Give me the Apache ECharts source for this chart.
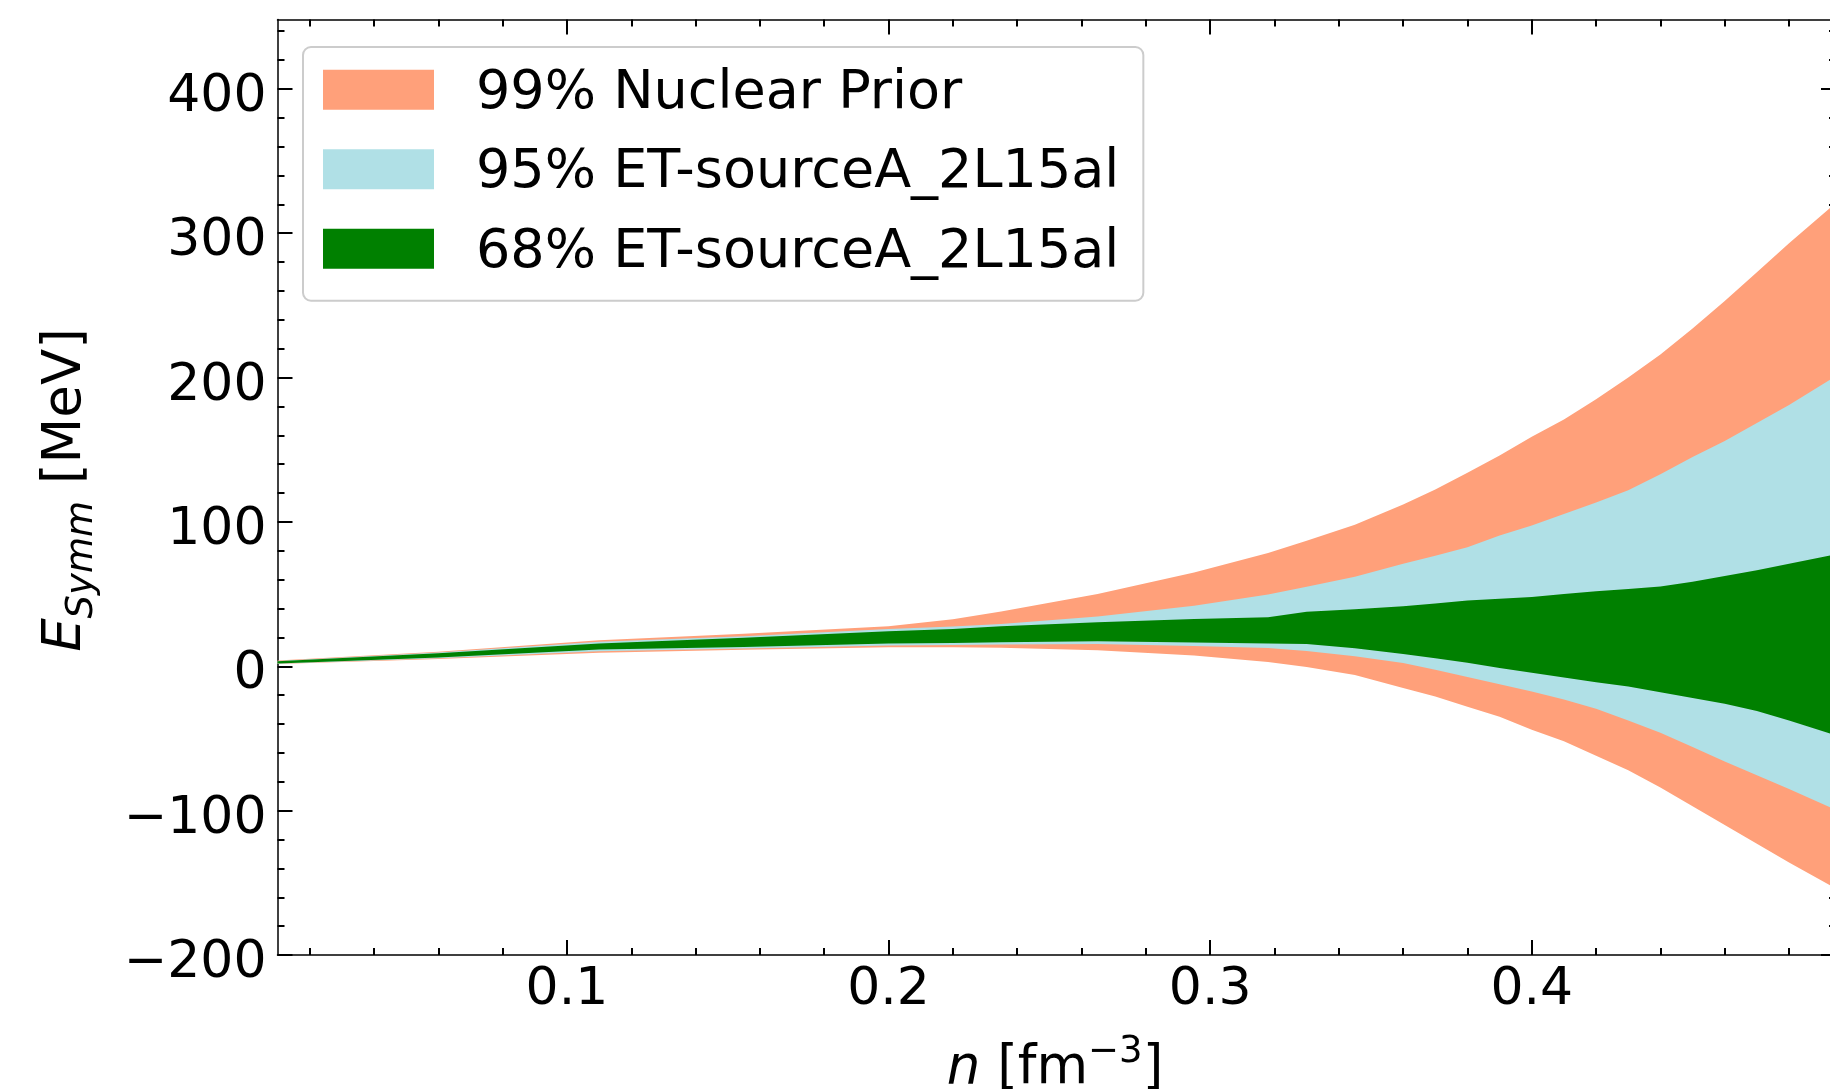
<!DOCTYPE html>
<html lang="en">
<head>
    <meta charset="UTF-8">
    <title>E_Symm bands</title>
    <script src="https://cdn.jsdelivr.net/npm/echarts@6/dist/echarts.min.js"></script>
    <style>
        body { margin: 0; background: #fff; }
    </style>
</head>
<body>
<div id="main" style="width: 1830px; height: 1089px;"></div>
<script type="text/javascript">
    // density grid n [fm^-3]
    var nVals = [0.01, 0.06, 0.11, 0.155, 0.20, 0.22, 0.235, 0.265, 0.295, 0.318, 0.33, 0.345,
                 0.36, 0.37, 0.38, 0.39, 0.40, 0.41, 0.42, 0.43, 0.44, 0.45, 0.46, 0.47, 0.48, 0.4946];

    // 99% nuclear prior band
    var priorLo = [1.5, 5.0, 9.3, 11.5, 13.2, 13.1, 12.9, 11.1, 7.5, 3.0, -0.5, -6,
                   -15, -21, -28, -35, -44, -52, -62, -72, -84, -97, -110, -123, -136, -154];
    var priorHi = [4.0, 10.0, 18.0, 22.5, 27.8, 32.5, 38, 50, 65, 78.5, 87, 98,
                   112, 122.5, 134, 146, 159, 171, 185, 200, 216, 234, 253, 273, 293, 321];

    // 95% ET-sourceA_2L15al band
    var et95Lo = [1.8, 5.5, 10.4, 12.3, 14.3, 14.7, 15.0, 15.5, 14.0, 12.7, 10.5, 7,
                  2.2, -2.5, -7.5, -12.5, -17.5, -23, -29.5, -37.5, -46, -56, -66, -75.5, -85, -99.5];
    var et95Hi = [3.7, 9.5, 16.9, 20.8, 25.8, 27.5, 29.3, 34.5, 42, 49.7, 55, 62,
                  71, 76.5, 82.5, 90.5, 97.5, 105.5, 113.5, 122, 133, 145, 156, 168.5, 181, 201];

    // 68% ET-sourceA_2L15al band
    var et68Lo = [2.0, 6.0, 11.6, 13.3, 15.7, 16.2, 16.6, 17.3, 16.5, 15.8, 15.4, 12.5,
                  8.5, 5.5, 2.5, -1.2, -4.5, -7.8, -11, -14, -18, -22, -26, -31, -37.5, -48];
    var et68Hi = [3.5, 9.0, 15.7, 19.8, 24.3, 25.8, 27.7, 30.5, 32.7, 34, 37.8, 39.5,
                  41.5, 43.5, 45.5, 46.7, 48, 50, 52, 53.5, 55.3, 58.5, 62.5, 66.5, 71, 77.5];

    var bandNames = ['99% Nuclear Prior', '95% ET-sourceA_2L15al', '68% ET-sourceA_2L15al'];
    var bandColors = ['#FFA07A', '#B0E0E6', '#008000'];

    // ticks
    var xMajor = [0.1, 0.2, 0.3, 0.4];
    var xTickLabels = ['0.1', '0.2', '0.3', '0.4'];
    var xMinor = [0.02, 0.04, 0.06, 0.08, 0.12, 0.14, 0.16, 0.18, 0.22, 0.24, 0.26, 0.28,
                  0.32, 0.34, 0.36, 0.38, 0.42, 0.44, 0.46, 0.48];
    var yMajor = [-200, -100, 0, 100, 200, 300, 400];
    var yTickLabels = ['\u2212200', '\u2212100', '0', '100', '200', '300', '400'];
    var yMinor = [];
    for (var v = -180; v <= 440; v += 20) {
        if (v % 100 !== 0) yMinor.push(v);
    }

    var X_MIN = 0.01, X_MAX = 0.4946;
    var Y_MIN = -200, Y_MAX = 448;
    var FONT = 'DejaVu Sans';

    function xAxisDef(position, ticks, len, showLine, showLabel) {
        return {
            type: 'value',
            position: position,
            min: X_MIN,
            max: X_MAX,
            splitLine: {show: false},
            axisLine: {show: showLine, onZero: false, lineStyle: {color: '#000', width: 1.5}},
            axisTick: {show: true, inside: true, length: len, customValues: ticks,
                       lineStyle: {color: '#000', width: 2}},
            axisLabel: {
                show: showLabel,
                customValues: ticks,
                margin: 9,
                color: '#000',
                fontSize: 52,
                fontFamily: FONT,
                formatter: function (val) {
                    var i = xMajor.indexOf(Math.round(val * 100) / 100);
                    return i >= 0 ? xTickLabels[i] : '';
                }
            }
        };
    }

    function yAxisDef(position, ticks, len, showLine, showLabel) {
        return {
            type: 'value',
            position: position,
            min: Y_MIN,
            max: Y_MAX,
            splitLine: {show: false},
            axisLine: {show: showLine, onZero: false, lineStyle: {color: '#000', width: 1.5}},
            axisTick: {show: true, inside: true, length: len, customValues: ticks,
                       lineStyle: {color: '#000', width: 2}},
            axisLabel: {
                show: showLabel,
                customValues: ticks,
                margin: 11,
                verticalAlign: 'top',
                lineHeight: 17,
                color: '#000',
                fontSize: 52,
                fontFamily: FONT,
                formatter: function (val) {
                    var i = yMajor.indexOf(Math.round(val));
                    return i >= 0 ? yTickLabels[i] : '';
                }
            }
        };
    }

    function bandSeries(idx, lo, hi) {
        var rows = [];
        for (var i = 0; i < nVals.length; i++) {
            rows.push([nVals[i], lo[i], hi[i]]);
        }
        return {
            type: 'custom',
            name: bandNames[idx],
            xAxisIndex: 0,
            yAxisIndex: 0,
            z: 2 + idx,
            clip: true,
            silent: true,
            itemStyle: {color: bandColors[idx]},
            encode: {x: 0, y: [1, 2]},
            data: rows,
            renderItem: function (params, api) {
                // one polygon per band: upper edge left->right, lower edge back
                if (params.dataIndex !== 0) return null;
                var pts = [];
                for (var i = 0; i < nVals.length; i++) {
                    pts.push(api.coord([nVals[i], hi[i]]));
                }
                for (var j = nVals.length - 1; j >= 0; j--) {
                    pts.push(api.coord([nVals[j], lo[j]]));
                }
                return {
                    type: 'polygon',
                    shape: {points: pts},
                    style: {fill: bandColors[idx], stroke: null}
                };
            }
        };
    }

    var option = {
        animation: false,
        backgroundColor: '#fff',
        grid: {
            left: 277.5,
            top: 19.5,
            right: -6,
            bottom: 134,
            containLabel: false,
            outerBoundsMode: 'none'
        },
        xAxis: [
            xAxisDef('bottom', xMajor, 15, true, true),
            xAxisDef('bottom', xMinor, 7, false, false),
            xAxisDef('top', xMajor, 15, true, false),
            xAxisDef('top', xMinor, 7, false, false)
        ],
        yAxis: [
            yAxisDef('left', yMajor, 15, true, true),
            yAxisDef('left', yMinor, 7, false, false),
            yAxisDef('right', yMajor, 15, true, false),
            yAxisDef('right', yMinor, 7, false, false)
        ],
        legend: {
            left: 303,
            top: 47,
            orient: 'vertical',
            padding: [19.75, 24, 21, 20],
            itemWidth: 111,
            itemHeight: 48,
            itemGap: 25.5,
            // patch drawn in the upper 40px of a 48px icon box, so the label sits centred on it
            icon: 'path://M0,0L111,0L111,40L0,40ZM0,48',
            backgroundColor: 'rgba(255,255,255,0.8)',
            borderColor: '#cccccc',
            borderWidth: 2,
            borderRadius: 8,
            itemStyle: {borderWidth: 0},
            textStyle: {
                color: '#000',
                fontSize: 54,
                fontFamily: FONT,
                padding: [0, 0, 0, 37]
            },
            data: bandNames
        },
        graphic: [
            {
                type: 'text',
                x: 1055,
                y: 1069,
                z: 100,
                style: {
                    text: '{i|n} [fm{sup|\u22123}]',
                    fill: '#000',
                    fontSize: 53,
                    fontFamily: FONT,
                    lineHeight: 70,
                    align: 'center',
                    verticalAlign: 'middle',
                    rich: {
                        i: {fontStyle: 'italic', fontSize: 53, fontFamily: FONT, lineHeight: 70},
                        sup: {fontSize: 37, fontFamily: FONT, lineHeight: 37, verticalAlign: 'top'}
                    }
                }
            },
            {
                type: 'text',
                x: 66,
                y: 490,
                rotation: Math.PI / 2,
                z: 100,
                style: {
                    text: '{i|E}{sub|Symm} [MeV]',
                    fill: '#000',
                    fontSize: 53,
                    fontFamily: FONT,
                    lineHeight: 70,
                    align: 'center',
                    verticalAlign: 'middle',
                    rich: {
                        i: {fontStyle: 'italic', fontSize: 53, fontFamily: FONT, lineHeight: 70},
                        sub: {fontStyle: 'italic', fontSize: 37, fontFamily: FONT, lineHeight: 37, verticalAlign: 'bottom'}
                    }
                }
            }
        ],
        series: [
            bandSeries(0, priorLo, priorHi),
            bandSeries(1, et95Lo, et95Hi),
            bandSeries(2, et68Lo, et68Hi)
        ]
    };

    var myChart = echarts.init(document.getElementById('main'));
    myChart.setOption(option);
</script>
</body>
</html>
